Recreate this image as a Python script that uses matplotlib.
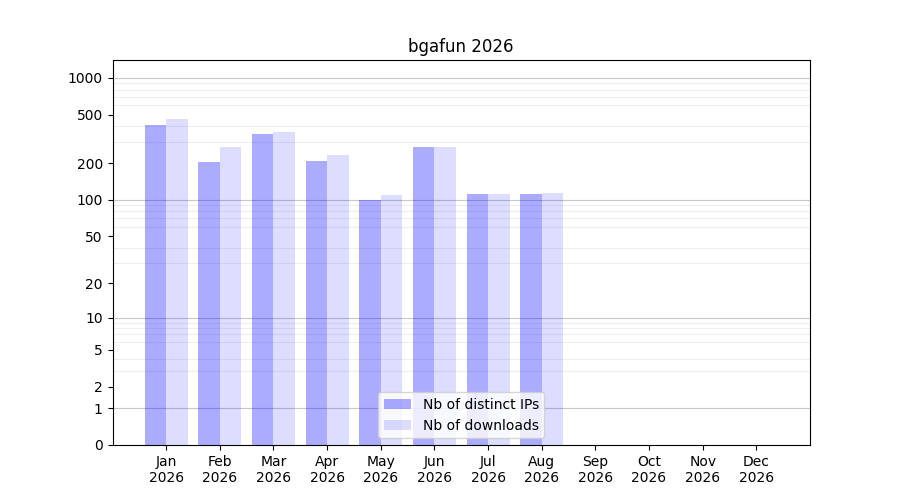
import numpy as np
import matplotlib
matplotlib.use("Agg")
import matplotlib.pyplot as plt

# data
months = ["Jan", "Feb", "Mar", "Apr", "May", "Jun", "Jul", "Aug", "Sep", "Oct", "Nov", "Dec"]
year = "2026"
distinct_ips = [413, 205, 348, 209, 100, 272, 112, 112]
downloads = [462, 272, 362, 234, 110, 272, 112, 114]
ytick_values = [0, 1, 2, 5, 10, 20, 50, 100, 200, 500, 1000]


def fwd(y):
    return np.log10(1 + np.maximum(y, 0))


def inv(y):
    return 10 ** y - 1


fig = plt.figure(figsize=(9, 5), dpi=100)
ax = fig.add_subplot(111)
ax.set_yscale("function", functions=(fwd, inv))

# light grid between decades, darker at each decade
minor = [m * 10 ** d for d in range(3) for m in range(2, 10)]
ax.set_yticks(minor, minor=True)
ax.tick_params(axis="y", which="minor", length=0)
ax.grid(axis="y", which="minor", color="#eeeeee", linewidth=0.8)
for d in [1, 10, 100, 1000]:
    ax.axhline(d, color="#c8c8c8", linewidth=0.8, zorder=0.5)

x = np.arange(len(distinct_ips))
w = 0.4
ax.bar(x - w, distinct_ips, width=w, align="edge", color="blue", alpha=0.33,
       label="Nb of distinct IPs", zorder=2)
ax.bar(x, downloads, width=w, align="edge", color="blue", alpha=0.135,
       label="Nb of downloads", zorder=2)

ax.set_yticks(ytick_values)
ax.set_yticklabels([str(v) for v in ytick_values])
ax.set_ylim(0, 1400)
ax.set_xticks(np.arange(len(months)))
ax.set_xticklabels([m + "\n" + year for m in months])
ax.set_xlim(-1, len(months))
ax.set_axisbelow(True)

plt.title("bgafun " + year)
ax.legend(loc="lower center")
plt.savefig("out.png")
